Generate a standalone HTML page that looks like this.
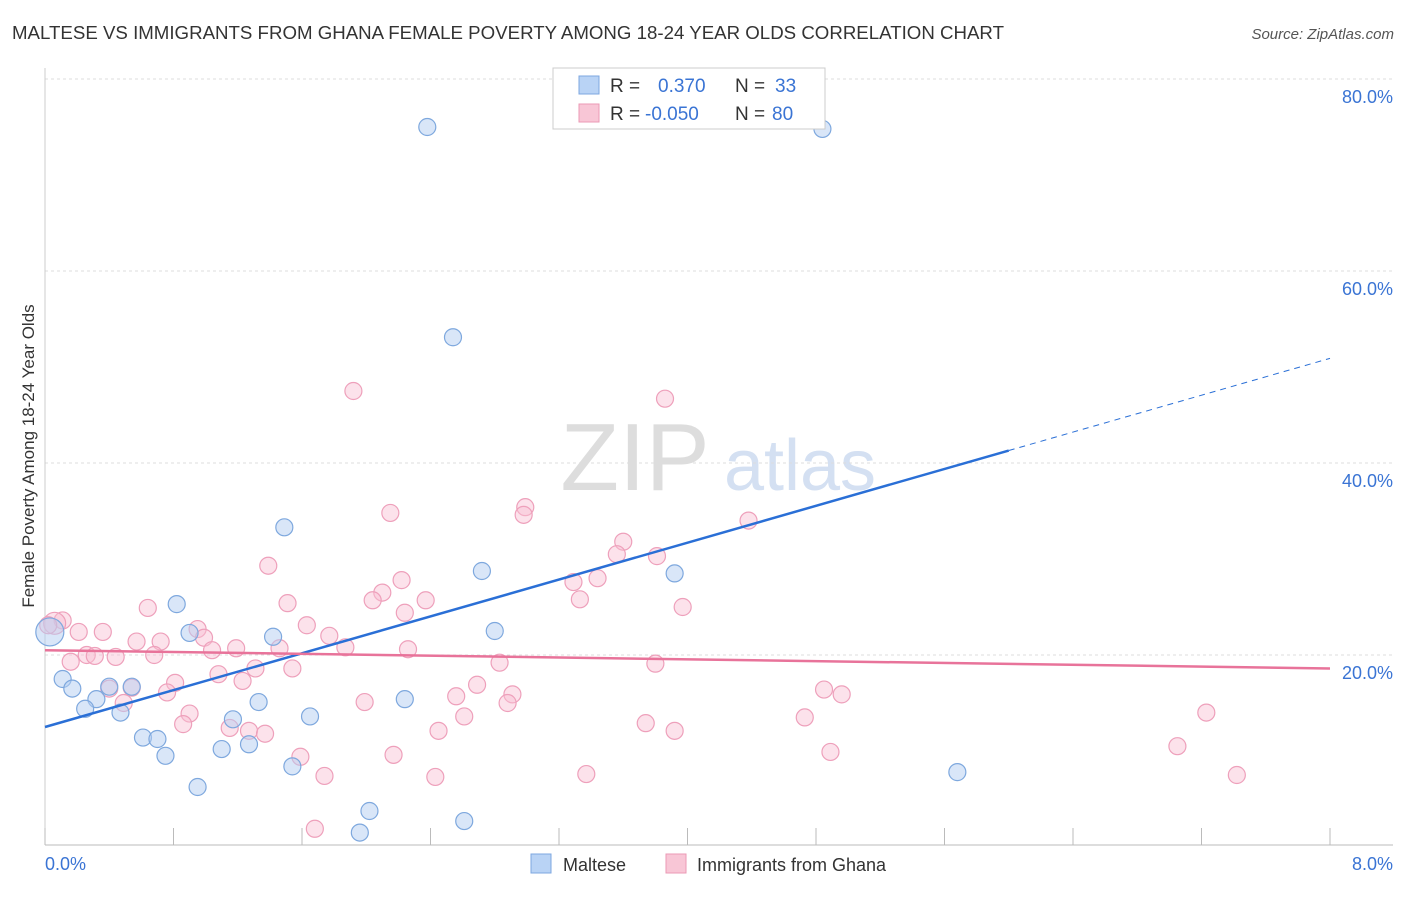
<!DOCTYPE html>
<html><head><meta charset="utf-8"><style>
body{margin:0;background:#fff;font-family:"Liberation Sans",sans-serif;}
svg text{font-family:"Liberation Sans",sans-serif;}
</style></head><body>
<svg id="chart" width="1406" height="892" xmlns="http://www.w3.org/2000/svg">
<text x="12" y="39" font-size="18" fill="#333" textLength="992" lengthAdjust="spacingAndGlyphs">MALTESE VS IMMIGRANTS FROM GHANA FEMALE POVERTY AMONG 18-24 YEAR OLDS CORRELATION CHART</text>
<text x="1394" y="39" font-size="15" fill="#555" text-anchor="end" font-style="italic">Source: ZipAtlas.com</text>
<g>
<text x="635" y="490" font-size="96" fill="#ddd" font-family="Liberation Serif" text-anchor="middle">ZIP</text>
<text x="800" y="490" font-size="72" fill="#d4e0f2" text-anchor="middle">atlas</text>
</g>
<g id="grid"></g>
<g id="axes"></g>
<g id="marks"></g>
<text transform="translate(34,456) rotate(-90)" font-size="17" fill="#333" text-anchor="middle">Female Poverty Among 18-24 Year Olds</text>
<g>
<rect x="553" y="68" width="272" height="61" fill="#fff" stroke="#ccc"/>
<rect x="579" y="76" width="20" height="18" fill="#b9d3f5" stroke="#7da7e0"/>
<rect x="579" y="104" width="20" height="18" fill="#f8c6d6" stroke="#eb9ab5"/>
<text x="610" y="92" font-size="19" fill="#333">R =</text>
<text x="658" y="92" font-size="19" fill="#3a74d4">0.370</text>
<text x="735" y="92" font-size="19" fill="#333">N =</text>
<text x="775" y="92" font-size="19" fill="#3a74d4">33</text>
<text x="610" y="120" font-size="19" fill="#333">R =</text>
<text x="645" y="120" font-size="19" fill="#3a74d4">-0.050</text>
<text x="735" y="120" font-size="19" fill="#333">N =</text>
<text x="772" y="120" font-size="19" fill="#3a74d4">80</text>
</g>
<g>
<rect x="531" y="854" width="20" height="19" fill="#b9d3f5" stroke="#7da7e0"/>
<text x="563" y="871" font-size="18" fill="#333">Maltese</text>
<rect x="666" y="854" width="20" height="19" fill="#f8c6d6" stroke="#eb9ab5"/>
<text x="697" y="871" font-size="18" fill="#333">Immigrants from Ghana</text>
</g>
</svg>
<script>
const yTicks=[20,40,60,80];
const yTickLabels=["20.0%","40.0%","60.0%","80.0%"];
const xTicks=[0,0.8,1.6,2.4,3.2,4.0,4.8,5.6,6.4,7.2,8.0];
const maltX=[2.38,4.84,2.54,1.49,2.72,3.92,0.82,0.90,1.42,2.80,0.03,0.11,0.17,0.32,0.25,0.40,0.54,0.47,1.33,1.17,1.65,2.24,0.61,0.70,0.75,1.10,1.27,1.54,0.95,2.02,1.96,2.61,5.68];
const maltY=[75.0,74.8,53.1,33.3,28.75,28.5,25.3,22.3,21.9,22.5,22.4,17.5,16.5,15.4,14.4,16.7,16.7,14.0,15.1,13.3,13.6,15.4,11.4,11.25,9.5,10.2,10.7,8.4,6.25,3.75,1.5,2.7,7.8];
const ghX=[1.92,3.86,2.15,2.99,2.98,4.38,3.60,3.56,3.81,1.39,2.22,3.29,3.44,2.10,2.04,3.33,2.37,1.51,0.64,2.24,3.97,0.11,0.06,0.02,0.21,0.36,1.63,0.95,1.77,0.99,0.57,0.72,1.19,1.46,1.87,1.04,2.26,0.68,0.26,0.31,0.44,0.16,1.54,2.83,3.80,1.31,1.08,0.81,1.23,2.69,0.40,0.54,0.76,4.85,4.96,2.91,2.56,1.99,0.49,2.88,0.90,0.86,2.61,4.73,7.23,3.74,3.92,2.45,1.15,1.27,1.37,7.05,4.89,2.17,1.59,3.37,1.74,2.43,7.42,1.68];
const ghY=[47.5,46.7,34.8,35.4,34.6,34.0,31.8,30.5,30.3,29.3,27.8,27.6,28.0,26.5,25.7,25.8,25.7,25.4,24.9,24.4,25.0,23.6,23.3,23.1,22.4,22.4,23.1,22.7,22.0,21.8,21.4,21.4,20.7,20.7,20.8,20.5,20.6,20.0,20.0,19.9,19.8,19.3,18.6,19.2,19.1,18.6,18.0,17.1,17.3,16.9,16.5,16.6,16.1,16.4,15.9,15.9,15.7,15.1,15.0,15.0,13.9,12.8,13.6,13.5,14.0,12.9,12.1,12.1,12.4,12.1,11.8,10.5,9.9,9.6,9.4,7.6,7.4,7.3,7.5,1.9];
const maltTrend=[12.5,50.9];
const ghTrend=[20.5,18.6];
const sx=v=>45+v/8*1285, sy=v=>847-v*9.6;
const NS="http://www.w3.org/2000/svg";
function mk(tag,attrs,parent){const e=document.createElementNS(NS,tag);for(const k in attrs)e.setAttribute(k,attrs[k]);parent.appendChild(e);return e;}
const grid=document.getElementById('grid'),axes=document.getElementById('axes'),marks=document.getElementById('marks');
yTicks.forEach((t,i)=>{
 const l=mk('line',{x1:45,x2:1393,y1:sy(t),y2:sy(t),stroke:'#ddd','stroke-dasharray':'3,3'},grid);
 
 
 const tx=mk('text',{x:1393,y:sy(t)+24,'font-size':18,fill:'#3a74d4','text-anchor':'end'},axes);
 tx.textContent=yTickLabels[i];
 
 
});
const ax=mk('line',{x1:45,x2:1393,y1:845,y2:845,stroke:'#bbb'},axes);


const ay=mk('line',{x1:45,x2:45,y1:68,y2:845,stroke:'#ccc'},axes);


xTicks.forEach(t=>{
 const l=mk('line',{x1:sx(t),x2:sx(t),y1:828,y2:845,stroke:'#bbb'},axes);
 
 
});
const xl0=mk('text',{x:45,y:870,'font-size':18,fill:'#3a74d4'},axes);xl0.textContent='0.0%';


const xl1=mk('text',{x:1393,y:870,'font-size':18,fill:'#3a74d4','text-anchor':'end'},axes);xl1.textContent='8.0%';


ghX.forEach((x,i)=>{
 const c=mk('circle',{cx:sx(x),cy:sy(ghY[i]),r:(i===22?11:8.5),fill:'rgba(248,190,210,0.45)',stroke:'#eea0bb','stroke-width':1.2},marks);
 
 
});
maltX.forEach((x,i)=>{
 const c=mk('circle',{cx:sx(x),cy:sy(maltY[i]),r:(i===10?14:8.5),fill:'rgba(180,206,242,0.5)',stroke:'#7ea8de','stroke-width':1.2},marks);
 
 
});
const bx=6.0, by=maltTrend[0]+(maltTrend[1]-maltTrend[0])*bx/8;
const t1=mk('line',{x1:sx(0),y1:sy(maltTrend[0]),x2:sx(bx),y2:sy(by),stroke:'#2a6fd6','stroke-width':2.5},marks);


const t2=mk('line',{x1:sx(bx),y1:sy(by),x2:sx(8),y2:sy(maltTrend[1]),stroke:'#2a6fd6','stroke-width':1,'stroke-dasharray':'6,5'},marks);


const t3=mk('line',{x1:sx(0),y1:sy(ghTrend[0]),x2:sx(8),y2:sy(ghTrend[1]),stroke:'#e8739a','stroke-width':2.5},marks);


</script>
</body></html>
